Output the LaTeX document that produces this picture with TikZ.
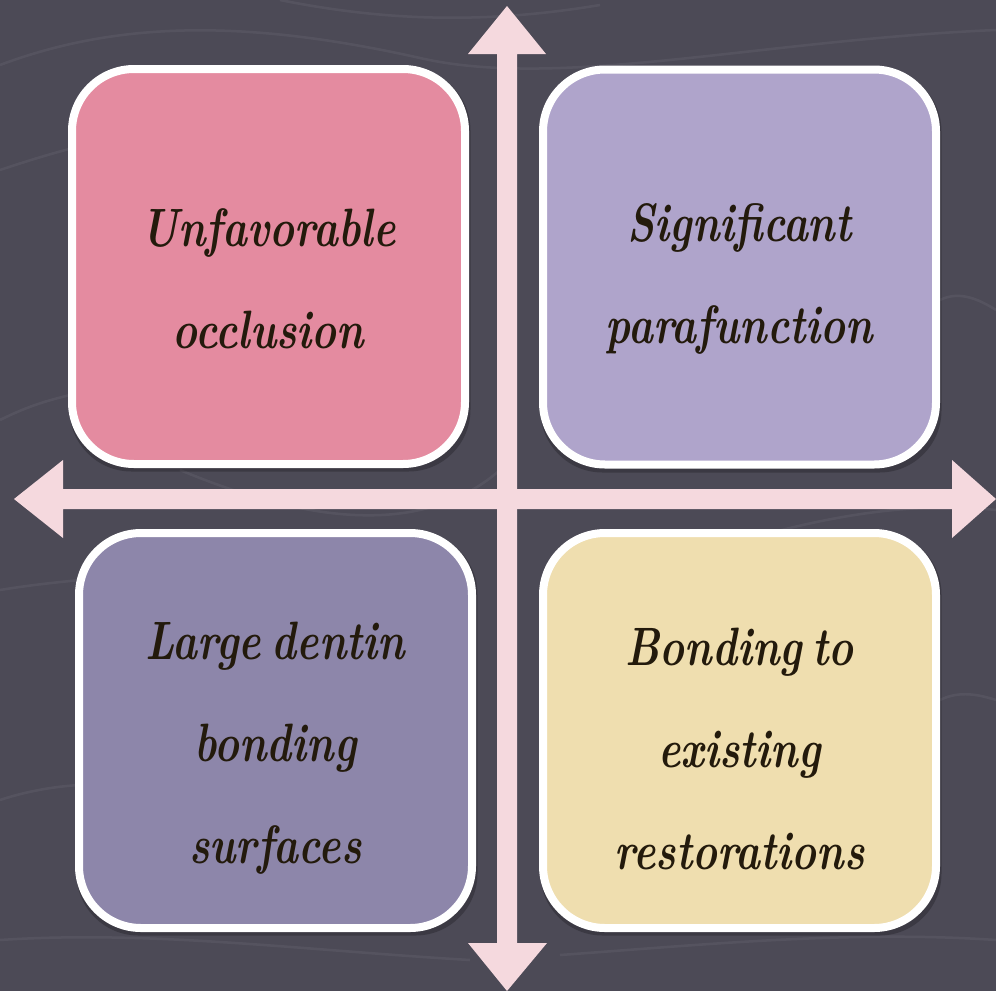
\documentclass[tikz,border=0pt]{standalone}
\usepackage{fontspec}
\setmainfont{Latin Modern Roman}[FakeStretch=0.78,WordSpace=0.6]
\definecolor{bgc}{HTML}{4C4A56}
\definecolor{wavec}{HTML}{5A5864}
\definecolor{arrc}{HTML}{F5D9DE}
\definecolor{pinkc}{HTML}{E48BA0}
\definecolor{lilacc}{HTML}{AFA4CB}
\definecolor{violc}{HTML}{8D86AA}
\definecolor{creamc}{HTML}{EFDEAF}
\definecolor{txtc}{HTML}{231A0C}
\begin{document}
\begin{tikzpicture}[x=1pt,y=-1pt,
  quadbox/.style={draw=white,line width=8pt,rounded corners=62pt,
    minimum width=393pt,minimum height=395pt,inner sep=0pt},
  shadowbox/.style={fill=black,opacity=0.22,rounded corners=62pt,
    minimum width=401pt,minimum height=403pt,inner sep=0pt},
  quadtext/.style={text=txtc,align=center,font=\fontsize{54}{102}\selectfont\bfseries\itshape},
  arrowfill/.style={fill=arrc,draw=none}]
\fill[bgc] (0,0) rectangle (996,991);
\useasboundingbox (0,0) rectangle (996,991);
% background waves
\begin{scope}[draw=wavec,line width=2.5pt,opacity=0.7]
\draw (0,65) .. controls (120,20) and (250,20) .. (420,58) .. controls (560,90) and (760,40) .. (996,30);
\draw (280,0) .. controls (380,20) and (480,25) .. (600,5);
\draw (0,170) .. controls (60,150) and (100,140) .. (140,135);
\draw (0,420) .. controls (30,405) and (50,400) .. (70,395);
\draw (180,470) .. controls (300,520) and (420,540) .. (500,470);
\draw (680,560) .. controls (800,520) and (900,500) .. (996,510);
\draw (0,590) .. controls (30,585) and (60,582) .. (80,580);
\draw (940,300) .. controls (960,290) and (980,300) .. (996,310);
\draw (940,700) .. controls (960,690) and (980,695) .. (996,700);
\draw (0,800) .. controls (30,790) and (60,786) .. (80,785);
\draw (0,940) .. controls (150,930) and (300,950) .. (470,960);
\draw (560,955) .. controls (700,945) and (850,930) .. (996,940);
\end{scope}
% arrows
\fill[arrowfill] (14,499) -- (63,460) -- (63,489) -- (952,489) -- (952,460) -- (996,499)
  -- (952,538) -- (952,509) -- (63,509) -- (63,538) -- cycle;
\fill[arrowfill] (507,6) -- (546,54) -- (517,54) -- (517,943) -- (547,943) -- (507,991)
  -- (468,943) -- (497,943) -- (497,54) -- (468,54) -- cycle;
% shadows
\node[shadowbox] (s1) at (270,270) {};
\node[shadowbox] (s2) at (741,271) {};
\node[shadowbox] (s3) at (277,734) {};
\node[shadowbox] (s4) at (741,734) {};
% boxes
\node[quadbox,fill=pinkc] (b1) at (268.5,266.5) {};
\node[quadbox,fill=lilacc] (b2) at (739.5,267) {};
\node[quadbox,fill=violc] (b3) at (275.5,730.5) {};
\node[quadbox,fill=creamc] (b4) at (739.5,730.5) {};
% texts
\node[quadtext] (t1) at ([yshift=-12pt]b1.center) {Unfavorable\\occlusion};
\node[quadtext] (t2) at ([yshift=-12pt]b2.center) {Significant\\parafunction};
\node[quadtext] (t3) at ([yshift=-18pt]b3.center) {Large dentin\\bonding\\surfaces};
\node[quadtext] (t4) at ([yshift=-18pt]b4.center) {Bonding to\\existing\\restorations};
\end{tikzpicture}
\end{document}
